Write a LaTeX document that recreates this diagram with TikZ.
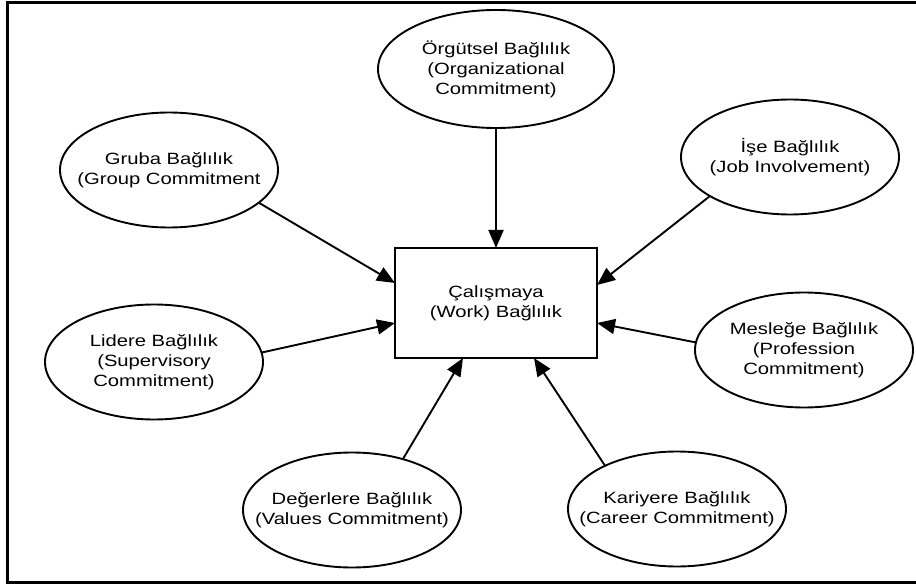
\documentclass[tikz,border=0pt]{standalone}
\usepackage{fontspec}
\setmainfont{Liberation Sans}[FakeStretch=1.24]
\usetikzlibrary{arrows.meta, shapes.geometric}

\begin{document}
\begin{tikzpicture}[x=1pt, y=-1pt,
  every node/.style = {font=\fontsize{16.3}{20}\selectfont, align=center,
    outer sep=0pt},
  bag/.style = {shape=ellipse, draw, line width=1.9pt,
    minimum width=218pt, minimum height=115pt, inner xsep=-30pt},
  core/.style = {shape=rectangle, draw, line width=2.2pt,
    minimum width=202pt, minimum height=110pt},
  link/.style = {line width=1.9pt, -{Triangle[length=18pt, width=15pt]}}]
  \useasboundingbox (0,0) rectangle (916,585);
  \draw[line width=3pt] (7,2.7) rectangle (930,582.7);

  \node[core] (work) at (496,303) {Çalışmaya\\(Work) Bağlılık};

  \node[bag, minimum width=236pt, minimum height=118pt] (org) at (496,69)
    {Örgütsel Bağlılık\\(Organizational\\Commitment)};
  \node[bag] (gruba) at (169,170) {Gruba Bağlılık\\(Group Commitment};
  \node[bag] (ise) at (790,157) {İşe Bağlılık\\(Job Involvement)};
  \node[bag] (lidere) at (154,362) {Lidere Bağlılık\\(Supervisory\\Commitment)};
  \node[bag] (meslege) at (804,350) {Mesleğe Bağlılık\\(Profession\\Commitment)};
  \node[bag] (degerlere) at (352,510) {Değerlere Bağlılık\\(Values Commitment)};
  \node[bag] (kariyere) at (677,509) {Kariyere Bağlılık\\(Career Commitment)};

  \draw[link] (org.south) -- (work.north);
  \draw[link] (gruba.-20) -- ([yshift=20pt]work.west);
  \draw[link] (lidere.5) -- ([yshift=-20pt]work.west);
  \draw[link] (ise.206) -- ([yshift=18pt]work.east);
  \draw[link] (meslege.176) -- ([yshift=-20pt]work.east);
  \draw[link] (degerlere.45) -- ([xshift=-33pt]work.south);
  \draw[link] (kariyere.149) -- ([xshift=38pt]work.south);
\end{tikzpicture}
\end{document}
